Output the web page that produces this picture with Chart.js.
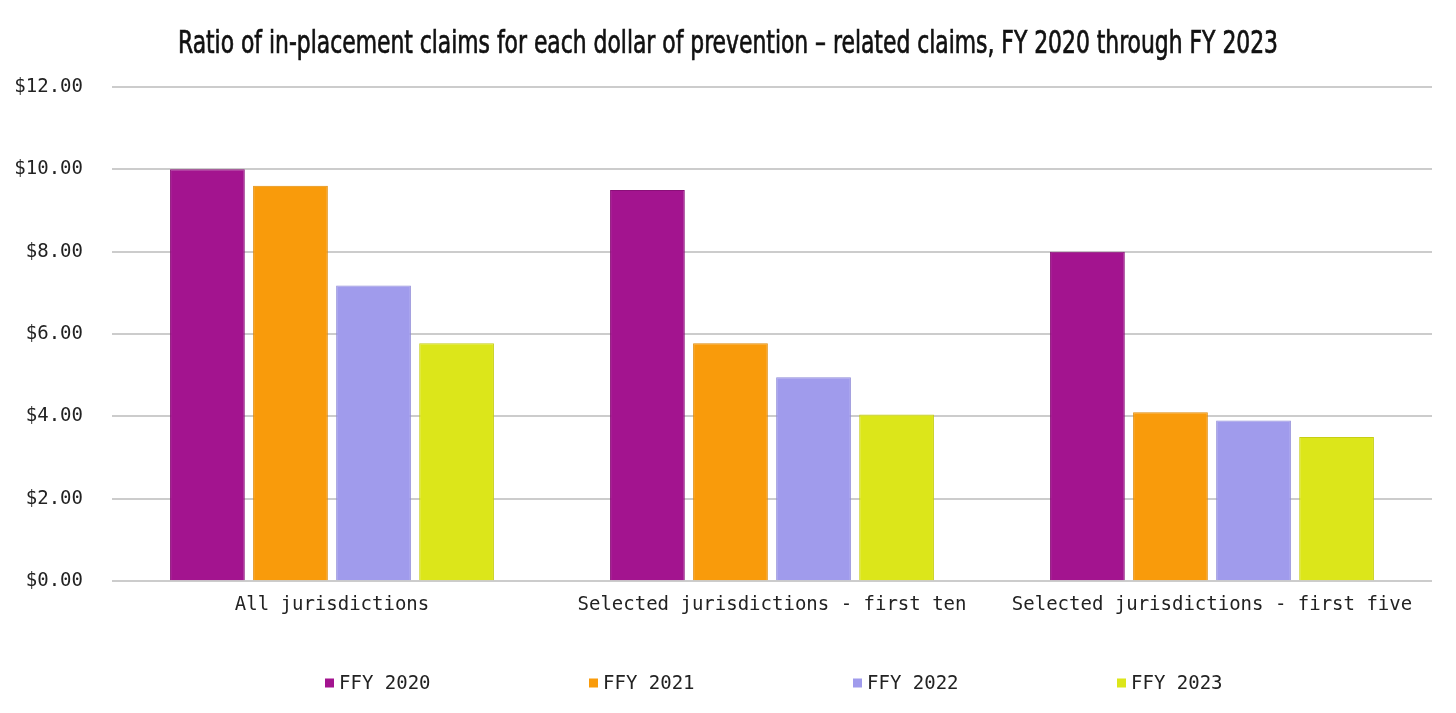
<!DOCTYPE html>
<html lang="en">
<head>
    <meta charset="UTF-8">
    <title>In-placement vs prevention claims</title>
    <style>
        html, body {
            margin: 0;
            padding: 0;
            background: #fff;
        }
        .wrap {
            width: 1456px;
            height: 713px;
        }
    </style>
</head>
<body>
    <div class="wrap">
        <canvas id="chart"></canvas>
    </div>

    <script src="https://cdn.jsdelivr.net/npm/chart.js"></script>
    <script>
        const titleText = 'Ratio of in-placement claims for each dollar of prevention \u2013 related claims, FY 2020 through FY 2023';
        const categories = ['All jurisdictions', 'Selected jurisdictions - first ten', 'Selected jurisdictions - first five'];
        const seriesNames = ['FFY 2020', 'FFY 2021', 'FFY 2022', 'FFY 2023'];
        const fy2020 = [10.00, 9.50, 8.00];
        const fy2021 = [9.60, 5.78, 4.10];
        const fy2022 = [7.18, 4.95, 3.90];
        const fy2023 = [5.78, 4.05, 3.50];
        const yTicks = [0, 2, 4, 6, 8, 10, 12];

        const colors = ['#a3148f', '#f99b0b', '#a09bec', '#dce61a'];
        const borders = ['#8a0f78', '#e08a08', '#8f8ad8', '#c6ce14'];

        const mono = "'DejaVu Sans Mono', monospace";

        // title in a tall condensed face, squeezed to the width of the original
        const narrowTitle = {
            id: 'narrowTitle',
            afterDraw(chart) {
                const ctx = chart.ctx;
                ctx.save();
                ctx.font = "32px 'DejaVu Sans Condensed', 'Liberation Sans Narrow', sans-serif";
                ctx.fillStyle = '#111';
                ctx.strokeStyle = '#111';
                ctx.lineWidth = 0.7;
                ctx.textBaseline = 'alphabetic';
                const w = ctx.measureText(titleText).width;
                const target = 1100;
                ctx.translate(178, 53);
                ctx.scale(target / w, 1);
                ctx.fillText(titleText, 0, 0);
                ctx.strokeText(titleText, 0, 0);
                ctx.restore();
            }
        };

        // legend drawn by hand so the items can sit far apart like the original
        const spreadLegend = {
            id: 'spreadLegend',
            afterDraw(chart) {
                const ctx = chart.ctx;
                const startX = 325, step = 264, y = 683, box = 9;
                ctx.save();
                ctx.font = '19px ' + mono;
                ctx.textBaseline = 'middle';
                chart.data.datasets.forEach((ds, i) => {
                    const x = startX + i * step;
                    ctx.fillStyle = ds.backgroundColor;
                    ctx.fillRect(x, y - box / 2, box, box);
                    ctx.fillStyle = '#222';
                    ctx.fillText(ds.label, x + 14, y + 1);
                });
                ctx.restore();
            }
        };

        const seriesData = [fy2020, fy2021, fy2022, fy2023];

        new Chart(document.getElementById('chart'), {
            type: 'bar',
            data: {
                labels: categories,
                datasets: seriesNames.map((name, i) => ({
                    label: name,
                    data: seriesData[i],
                    backgroundColor: colors[i],
                    borderColor: borders[i],
                    borderWidth: 1,
                    categoryPercentage: 0.755,
                    barPercentage: 0.9
                }))
            },
            options: {
                responsive: true,
                maintainAspectRatio: false,
                animation: false,
                layout: {
                    padding: { top: 87, left: 15, right: 24, bottom: 85 }
                },
                plugins: {
                    legend: { display: false },
                    tooltip: { enabled: false },
                    title: { display: false }
                },
                scales: {
                    x: {
                        grid: { display: false, drawTicks: false },
                        border: { display: false },
                        ticks: {
                            color: '#222',
                            padding: 12,
                            maxRotation: 0,
                            font: { family: mono, size: 19 }
                        }
                    },
                    y: {
                        min: 0,
                        max: 12,
                        afterBuildTicks(scale) {
                            scale.ticks = yTicks.map(v => ({ value: v }));
                        },
                        afterFit(scale) {
                            scale.width = 97;
                        },
                        grid: { color: '#cccccc', lineWidth: 2, drawTicks: false },
                        border: { display: false },
                        ticks: {
                            color: '#222',
                            padding: 29,
                            font: { family: mono, size: 19 },
                            callback: v => '$' + v.toFixed(2)
                        }
                    }
                }
            },
            plugins: [narrowTitle, spreadLegend]
        });
    </script>
</body>
</html>
